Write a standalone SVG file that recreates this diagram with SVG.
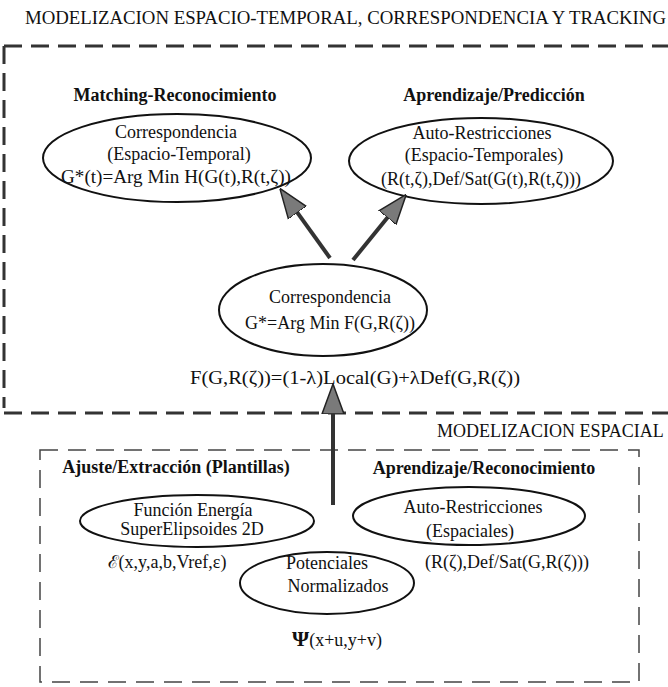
<svg xmlns="http://www.w3.org/2000/svg" width="668" height="687" viewBox="0 0 668 687">
  <style>
    .t { font-family: "Liberation Serif", "DejaVu Serif", serif; font-size: 18px; fill: #111; text-anchor: middle; }
    .b { font-weight: bold; }
    .s { text-anchor: start; }
    .node ellipse { fill: none; stroke: #111; stroke-width: 2; }
    .boxTop { fill: none; stroke: #333; stroke-width: 3; stroke-dasharray: 18 9; }
    .boxBot { fill: none; stroke: #444; stroke-width: 1.5; stroke-dasharray: 18 10; }
    .conn { fill: none; stroke: #333; stroke-width: 4; marker-end: url(#ah); }
  </style>
  <defs>
    <marker id="ah" viewBox="0 0 30 24" refX="8" refY="12" markerWidth="30" markerHeight="24" markerUnits="userSpaceOnUse" orient="auto">
      <path d="M0,1 L30,12 L0,23 Z" fill="#7a7a7a" stroke="#222" stroke-width="1.5" stroke-linejoin="round"/>
    </marker>
  </defs>
  <rect width="668" height="687" fill="#fff"/>

  <text class="t s" x="25" y="24" textLength="641" lengthAdjust="spacingAndGlyphs">MODELIZACION ESPACIO-TEMPORAL, CORRESPONDENCIA Y TRACKING</text>

  <g id="frames">
    <path class="boxTop" d="M4,46 L668,46"/>
    <path class="boxTop" d="M4,46 L4,408" stroke-width="2.5"/>
    <path class="boxTop" d="M4,413 L668,413"/>
    <rect class="boxBot" x="40" y="450" width="599" height="232"/>
  </g>

  <text class="t s" x="437" y="437">MODELIZACION ESPACIAL</text>

  <g id="headers">
    <text class="t b" x="175" y="101">Matching-Reconocimiento</text>
    <text class="t b" x="494" y="101">Aprendizaje/Predicción</text>
    <text class="t b" x="176" y="473">Ajuste/Extracción (Plantillas)</text>
    <text class="t b" x="484" y="474">Aprendizaje/Reconocimiento</text>
  </g>

  <g id="corr-espacio-temporal" class="node">
    <ellipse cx="177" cy="158" rx="134" ry="44"/>
    <text class="t" x="176" y="138">Correspondencia</text>
    <text class="t" x="179" y="160">(Espacio-Temporal)</text>
    <text class="t" x="176" y="183" textLength="230" lengthAdjust="spacingAndGlyphs">G*(t)=Arg Min H(G(t),R(t,ζ))</text>
  </g>

  <g id="auto-restr-espacio-temporales" class="node">
    <ellipse cx="481" cy="161" rx="132" ry="43"/>
    <text class="t" x="482" y="139">Auto-Restricciones</text>
    <text class="t" x="484" y="161">(Espacio-Temporales)</text>
    <text class="t" x="481" y="185">(R(t,ζ),Def/Sat(G(t),R(t,ζ)))</text>
  </g>

  <g id="correspondencia" class="node">
    <ellipse cx="323" cy="310" rx="104" ry="46"/>
    <text class="t" x="330" y="303">Correspondencia</text>
    <text class="t" x="330" y="329">G*=Arg Min F(G,R(ζ))</text>
  </g>

  <text class="t" x="355" y="384" font-size="19" textLength="330" lengthAdjust="spacingAndGlyphs">F(G,R(ζ))=(1-λ)Local(G)+λDef(G,R(ζ))</text>

  <g id="funcion-energia" class="node">
    <ellipse cx="197" cy="521" rx="117" ry="26"/>
    <text class="t" x="193" y="516">Función Energía</text>
    <text class="t" x="192" y="535">SuperElipsoides 2D</text>
  </g>
  <text class="t" x="167" y="568">ℰ(x,y,a,b,Vref,ε)</text>

  <g id="auto-restr-espaciales" class="node">
    <ellipse cx="469" cy="516" rx="116" ry="29"/>
    <text class="t" x="473" y="513">Auto-Restricciones</text>
    <text class="t" x="470" y="537">(Espaciales)</text>
  </g>
  <text class="t" x="507" y="568">(R(ζ),Def/Sat(G,R(ζ)))</text>

  <g id="potenciales" class="node">
    <ellipse cx="327" cy="583" rx="87" ry="31"/>
    <text class="t" x="327" y="569">Potenciales</text>
    <text class="t" x="338" y="592">Normalizados</text>
  </g>
  <text class="t" x="337" y="646"><tspan font-size="22" font-weight="bold">Ψ</tspan>(x+u,y+v)</text>

  <g id="connectors">
    <line class="conn" x1="330" y1="258" x2="292.7" y2="206.2"/>
    <line class="conn" x1="353" y1="260" x2="392.4" y2="211.5"/>
    <line class="conn" x1="333" y1="505" x2="333" y2="406"/>
  </g>
</svg>
